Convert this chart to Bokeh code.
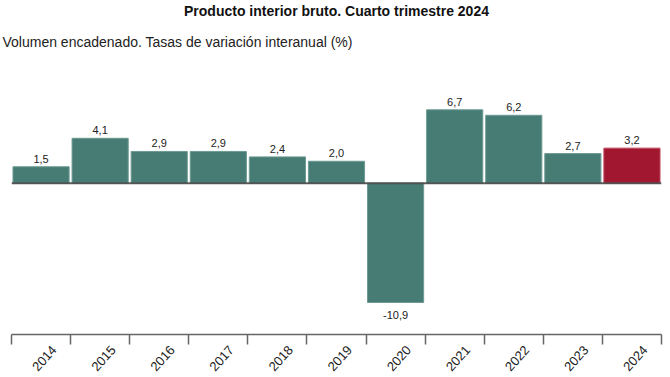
from bokeh.plotting import figure
from bokeh.models import Range1d, FixedTicker, Title, Span, ColumnDataSource
from bokeh.core.properties import value
from bokeh.embed import file_html
from bokeh.resources import INLINE
import math

years = ["2014", "2015", "2016", "2017", "2018", "2019", "2020", "2021", "2022", "2023", "2024"]
growth = [1.5, 4.1, 2.9, 2.9, 2.4, 2.0, -10.9, 6.7, 6.2, 2.7, 3.2]
labels = ["1,5", "4,1", "2,9", "2,9", "2,4", "2,0", "-10,9", "6,7", "6,2", "2,7", "3,2"]

TEAL = "#467c74"
RED = "#a0172f"
colors = [TEAL] * (len(years) - 1) + [RED]
edges = ["#6d9a93"] * (len(years) - 1) + ["#c04a5e"]

n = len(years)
xs = [i + 0.5 for i in range(n)]

src = ColumnDataSource(dict(x=xs, top=growth, color=colors, edge=edges, label=labels))
pos = ColumnDataSource(dict(x=[x for x, v in zip(xs, growth) if v >= 0],
                            y=[v for v in growth if v >= 0],
                            t=[l for l, v in zip(labels, growth) if v >= 0]))
neg = ColumnDataSource(dict(x=[x for x, v in zip(xs, growth) if v < 0],
                            y=[v for v in growth if v < 0],
                            t=[l for l, v in zip(labels, growth) if v < 0]))

p = figure(frame_width=650, frame_height=271, output_backend="svg", toolbar_location=None,
           x_range=Range1d(0, n), y_range=Range1d(-13.82, 10.93), title=None,
           min_border_left=11, min_border_right=9, min_border_top=0, min_border_bottom=0)
p.outline_line_color = None
p.background_fill_color = "white"
p.border_fill_color = "white"
p.xgrid.visible = False
p.ygrid.visible = False
p.yaxis.visible = False

sub = Title(text="Volumen encadenado. Tasas de variación interanual (%)", align="left",
            text_font="Liberation Sans", text_font_size="14px", text_font_style="normal",
            text_color="#222222", offset=-9, standoff=27)
main = Title(text="Producto interior bruto. Cuarto trimestre 2024", align="center",
             text_font="Liberation Sans", text_font_size="14px", text_font_style="bold",
             text_color="#111111", standoff=0)
p.add_layout(sub, "above")
p.add_layout(main, "above")

p.vbar(x="x", top="top", bottom=0, width=0.95, fill_color="color", line_color="edge",
       line_width=1, source=src)

p.add_layout(Span(location=0, dimension="width", line_color="#4a4a4a", line_width=2,
                  line_alpha=0.9))

p.text(x="x", y="y", text="t", source=pos, text_align="center", text_baseline="alphabetic",
       y_offset=-8, text_font=value("Liberation Sans"), text_font_size="11px", text_color="#222222")
p.text(x="x", y="y", text="t", source=neg, text_align="center", text_baseline="top",
       y_offset=8, text_font=value("Liberation Sans"), text_font_size="11px", text_color="#222222")

shift = 0.22
major = [x + shift for x in xs]
ax = p.xaxis[0]
ax.ticker = FixedTicker(ticks=major, minor_ticks=list(range(n + 1)))
ax.major_label_overrides = {t: y for t, y in zip(major, years)}
ax.major_label_orientation = 0.84
ax.major_tick_out = 0
ax.major_tick_in = 0
ax.minor_tick_out = 10
ax.minor_tick_in = 0
ax.minor_tick_line_color = "#666666"
ax.minor_tick_line_width = 1.5
ax.axis_line_color = "#666666"
ax.axis_line_width = 1.5
ax.major_label_text_font = "Liberation Sans"
ax.major_label_text_font_size = "13px"
ax.major_label_text_color = "#222222"
ax.major_label_standoff = 3

open("out.html", "w").write(file_html(p, INLINE))
